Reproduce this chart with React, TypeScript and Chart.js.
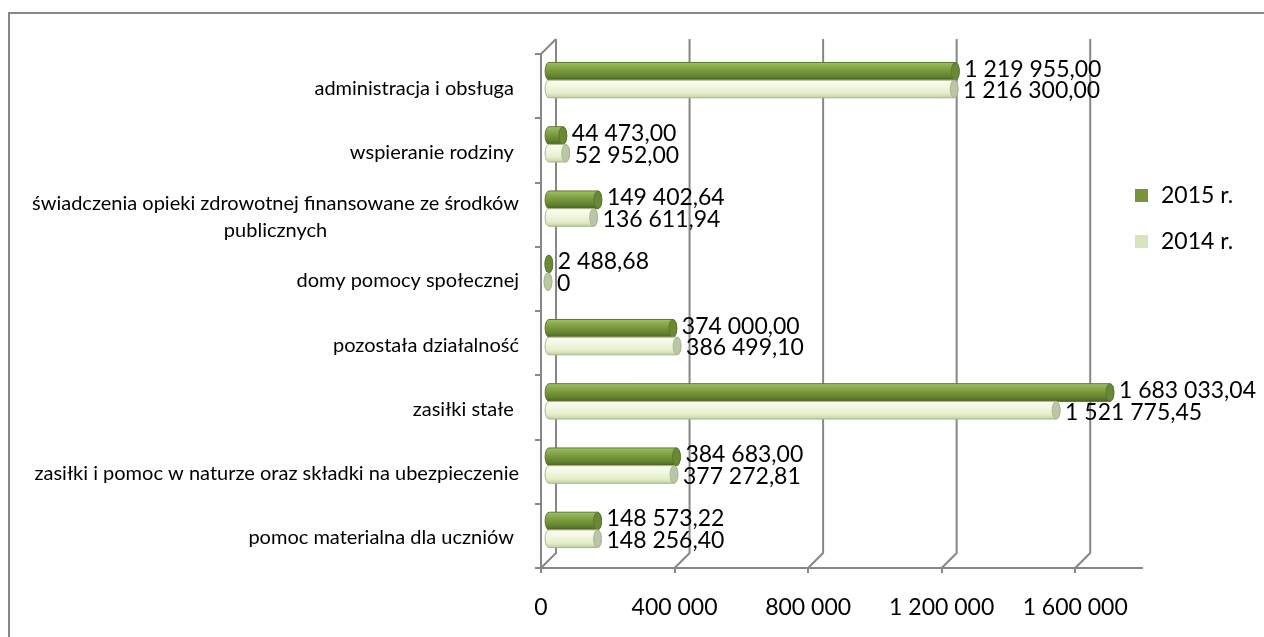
import React, { useEffect, useRef } from "react";
import { Chart, registerables } from "chart.js";

Chart.register(...registerables);

// ---------- data ----------
const categories: string[][] = [
  ["administracja i obsługa "],
  ["wspieranie rodziny "],
  ["świadczenia opieki zdrowotnej finansowane ze środków", "publicznych"],
  ["domy pomocy społecznej"],
  ["pozostała działalność"],
  ["zasiłki stałe "],
  ["zasiłki i pomoc w naturze oraz składki na ubezpieczenie"],
  ["pomoc materialna dla uczniów "],
];
const values2015 = [1219955.0, 44473.0, 149402.64, 2488.68, 374000.0, 1683033.04, 384683.0, 148573.22];
const values2014 = [1216300.0, 52952.0, 136611.94, 0, 386499.1, 1521775.45, 377272.81, 148256.4];
const seriesNames = ["2015 r.", "2014 r."];
const xTickValues = [0, 400000, 800000, 1200000, 1600000];
const xMax = 1800000;

// ---------- styles ----------
const GRID = "#878787";
const FONT = "Lato, 'Open Sans', sans-serif";
const COLOR_2015 = "#77933C";
const COLOR_2014 = "#D7E4BD";
const DX = 7;
const DY = 6;
const DEPTH = 15;

const palettes = [
  {
    body: [
      [0, "#a8c56c"],
      [0.12, "#94b555"],
      [0.45, "#7a9a3e"],
      [0.8, "#62802e"],
      [1, "#4a6222"],
    ],
    edge: "#5b7630",
    cap: "#6a8934",
  },
  {
    body: [
      [0, "#fbfdf4"],
      [0.35, "#f2f8e2"],
      [0.75, "#e3edca"],
      [1, "#c2d1a3"],
    ],
    edge: "#a9b690",
    cap: "#bcc6a6",
  },
];

function fmt(v: number, decimals: number): string {
  if (v === 0) return "0";
  const [i, d] = v.toFixed(decimals).split(".");
  const g = i.replace(/\B(?=(\d{3})+(?!\d))/g, " ");
  return d ? g + "," + d : g;
}

function drawCylinder(ctx: CanvasRenderingContext2D, x0: number, x1: number, yc: number, h: number, pal: any) {
  const r = h / 2;
  const rx = Math.max(2.5, h * 0.22);
  const top = yc - r;
  const bot = yc + r;
  const g = ctx.createLinearGradient(0, top, 0, bot);
  pal.body.forEach(([o, c]: [number, string]) => g.addColorStop(o, c));
  ctx.beginPath();
  ctx.moveTo(x0, top);
  ctx.lineTo(x1, top);
  ctx.ellipse(x1, yc, rx, r, 0, -Math.PI / 2, Math.PI / 2);
  ctx.lineTo(x0, bot);
  ctx.ellipse(x0, yc, rx, r, 0, Math.PI / 2, Math.PI * 1.5);
  ctx.closePath();
  ctx.fillStyle = g;
  ctx.fill();
  ctx.lineWidth = 1;
  ctx.strokeStyle = pal.edge;
  ctx.stroke();
  ctx.beginPath();
  ctx.ellipse(x1, yc, rx, r, 0, 0, Math.PI * 2);
  ctx.fillStyle = pal.cap;
  ctx.fill();
  ctx.stroke();
}

const cylinderPlugin = {
  id: "cylinders3d",
  beforeDatasetsDraw(chart: any) {
    const { ctx, chartArea: a, scales } = chart;
    const x = scales.x;
    ctx.save();
    ctx.strokeStyle = GRID;
    ctx.lineWidth = 2;
    x.ticks.forEach((t: any) => {
      const px = x.getPixelForValue(t.value);
      ctx.beginPath();
      ctx.moveTo(px + DEPTH, a.top - DEPTH);
      ctx.lineTo(px + DEPTH, a.bottom - DEPTH);
      ctx.lineTo(px, a.bottom);
      ctx.stroke();
    });
    ctx.beginPath();
    ctx.moveTo(a.left, a.top);
    ctx.lineTo(a.left + DEPTH, a.top - DEPTH);
    ctx.stroke();
    ctx.restore();
  },
  beforeDatasetDraw() {
    return false;
  },
  afterDatasetsDraw(chart: any) {
    const { ctx } = chart;
    ctx.save();
    chart.data.datasets.forEach((ds: any, di: number) => {
      const meta = chart.getDatasetMeta(di);
      meta.data.forEach((el: any) => {
        const x0 = el.base + DX;
        const x1 = el.x + DX;
        const yc = el.y - DY;
        drawCylinder(ctx, x0, x1, yc, el.height, palettes[di]);
      });
    });
    ctx.font = `23px ${FONT}`;
    ctx.fillStyle = "#000";
    ctx.textAlign = "left";
    ctx.textBaseline = "middle";
    chart.data.datasets.forEach((ds: any, di: number) => {
      const meta = chart.getDatasetMeta(di);
      meta.data.forEach((el: any, i: number) => {
        const x1 = el.x + DX;
        const yc = el.y - DY + (di === 0 ? -2 : 2);
        ctx.fillText(fmt(ds.data[i], 2), x1 + 9, yc);
      });
    });
    ctx.restore();
  },
  afterDraw(chart: any) {
    const { ctx, scales } = chart;
    const y = scales.y;
    ctx.save();
    // category labels
    ctx.font = `20px ${FONT}`;
    ctx.fillStyle = "#000";
    ctx.textAlign = "center";
    ctx.textBaseline = "middle";
    const right = 509;
    const lineH = 27;
    (chart.data.labels as string[][]).forEach((lines, i) => {
      const yc = y.getPixelForValue(i) + 2;
      const w = Math.max(...lines.map((l) => ctx.measureText(l).width));
      const cx = right - w / 2;
      lines.forEach((l, j) => {
        ctx.fillText(l, cx, yc + (j - (lines.length - 1) / 2) * lineH);
      });
    });
    // legend
    ctx.font = `23px ${FONT}`;
    ctx.textAlign = "left";
    chart.data.datasets.forEach((ds: any, di: number) => {
      const ly = 182 + di * 46;
      ctx.fillStyle = ds.backgroundColor;
      ctx.fillRect(1125, ly - 7, 13, 13);
      ctx.fillStyle = "#000";
      ctx.fillText(ds.label, 1151, ly);
    });
    ctx.restore();
  },
};

export default function App() {
  const ref = useRef<HTMLCanvasElement | null>(null);
  useEffect(() => {
    if (!ref.current) return;
    const chart = new Chart(ref.current, {
      type: "bar",
      data: {
        labels: categories as any,
        datasets: [
          {
            label: seriesNames[0],
            data: values2015,
            backgroundColor: COLOR_2015,
            categoryPercentage: 0.55,
            barPercentage: 1,
          },
          {
            label: seriesNames[1],
            data: values2014,
            backgroundColor: COLOR_2014,
            categoryPercentage: 0.55,
            barPercentage: 1,
          },
        ],
      },
      options: {
        indexAxis: "y",
        animation: false,
        responsive: false,
        maintainAspectRatio: false,
        layout: { padding: { top: 40, right: 122, left: 0, bottom: 0 } },
        plugins: { legend: { display: false }, tooltip: { enabled: false } },
        scales: {
          x: {
            min: 0,
            max: xMax,
            afterBuildTicks: (s: any) => {
              s.ticks = xTickValues.map((v) => ({ value: v }));
            },
            ticks: {
              callback: (v: any) => fmt(Number(v), 0),
              font: { family: FONT, size: 23 },
              color: "#000",
              padding: 21,
              maxRotation: 0,
              autoSkip: false,
            },
            grid: { drawOnChartArea: false, drawTicks: true, tickLength: 5, color: GRID, lineWidth: 2 },
            border: { display: true, color: GRID, width: 2 },
            afterFit: (s: any) => {
              s.height = 69;
            },
          },
          y: {
            ticks: { display: false },
            grid: { drawOnChartArea: false, drawTicks: true, tickLength: 6, color: GRID, lineWidth: 2, offset: true },
            border: { display: true, color: GRID, width: 2 },
            afterFit: (s: any) => {
              s.width = 531;
            },
          },
        } as any,
      },
      plugins: [cylinderPlugin as any],
    });
    if ((document as any).fonts && (document as any).fonts.ready) {
      (document as any).fonts.ready.then(() => chart.update());
    }
    return () => chart.destroy();
  }, []);

  return (
    <div
      style={{
        position: "fixed",
        left: 8,
        top: 12,
        width: 1400,
        height: 800,
        borderTop: "2px solid #878787",
        borderLeft: "2px solid #878787",
        background: "#fff",
        overflow: "hidden",
      }}
    >
      <canvas ref={ref} width={1254} height={623} style={{ display: "block" }} />
    </div>
  );
}
